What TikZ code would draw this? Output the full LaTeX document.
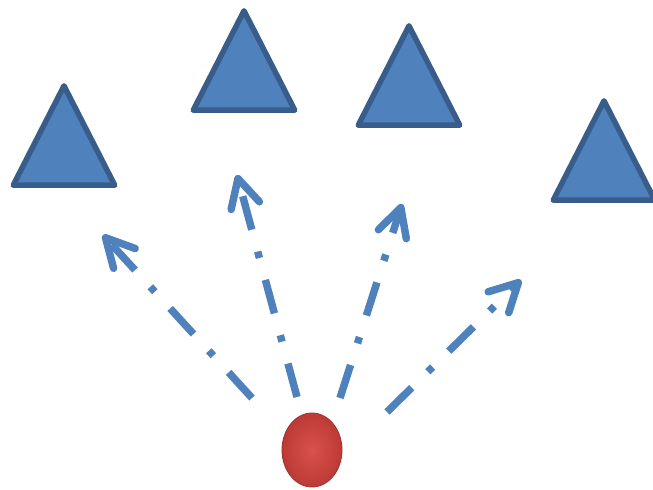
\documentclass[tikz,border=0pt]{standalone}
\usetikzlibrary{arrows.meta,shapes.geometric}
\definecolor{triBlue}{HTML}{4F81BD}
\definecolor{triBorder}{HTML}{385D8A}
\definecolor{ballRed}{HTML}{D9524C}
\definecolor{ballDark}{HTML}{BC3A36}
\tikzset{
  cone/.style={draw=triBorder, fill=triBlue, line width=4.1pt, line join=round},
  ray/.style={triBlue, line width=5.6pt,
    dash pattern=on 26pt off 17pt on 5pt off 17pt,
    -{Straight Barb[length=21pt,width=22pt,round]}},
  drop/.style={ellipse, inner sep=0pt, minimum width=45pt, minimum height=55.5pt,
    draw=ballDark!85!black, line width=0.6pt,
    shading=radial, inner color=ballRed, outer color=ballDark}
}
\begin{document}
\begin{tikzpicture}[x=0.75pt,y=-0.75pt]
  \useasboundingbox (0,0) rectangle (653,489);
  \foreach \ax/\ay in {64/83,244/8,409/23,604/98}
    \draw[cone] (\ax,\ay+2.8) -- ++(-50.8,99.4) -- ++(101.6,0) -- cycle;
  \node[drop] (ball) at (312,450) {};
  \coordinate (f1) at (252,398);
  \coordinate (t1) at (103,235);
  \coordinate (f2) at (297,397);
  \coordinate (t2) at (237,175);
  \coordinate (f3) at (340,398);
  \coordinate (t3) at (402,204);
  \coordinate (f4) at (387,412);
  \coordinate (t4) at (521,280);
  \foreach \i in {1,...,4}
    \draw[ray] (f\i) -- (t\i);
\end{tikzpicture}
\end{document}
